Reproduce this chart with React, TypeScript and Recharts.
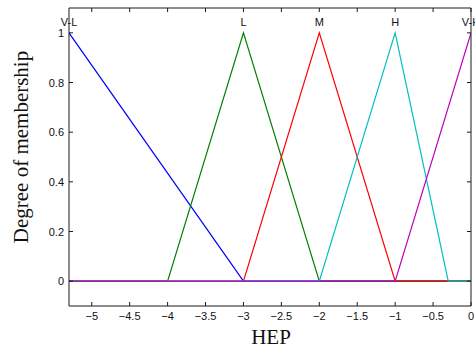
import React from 'react';
import { LineChart, Line, XAxis, YAxis, ReferenceDot, Label } from 'recharts';

// Membership functions (x breakpoints and membership values)
const vlX = [-5.3, -3, 0];
const vlY = [1, 0, 0];
const lX = [-5.3, -4, -3, -2, 0];
const lY = [0, 0, 1, 0, 0];
const mX = [-5.3, -3, -2, -1, 0];
const mY = [0, 0, 1, 0, 0];
const hX = [-5.3, -2, -1, -0.3, 0];
const hY = [0, 0, 1, 0, 0];
const vhX = [-5.3, -1, 0];
const vhY = [0, 0, 1];

const seriesNames = ['V-L', 'L', 'M', 'H', 'V-H'];
const peakX = [-5.3, -3, -2, -1, 0];
const seriesColors = ['#0000ff', '#008000', '#ff0000', '#00bfbf', '#bf00bf'];

const xTicks = [-5, -4.5, -4, -3.5, -3, -2.5, -2, -1.5, -1, -0.5, 0];
const yTicks = [0, 0.2, 0.4, 0.6, 0.8, 1];
const xDomain = [-5.3, 0];
const yDomain = [-0.1, 1.1];

const toPts = (xs: number[], ys: number[]) => xs.map((x, i) => ({ x, y: ys[i] }));
const series = [
  toPts(vlX, vlY),
  toPts(lX, lY),
  toPts(mX, mY),
  toPts(hX, hY),
  toPts(vhX, vhY),
];

const AX = '#1a1a1a';
const TICK_FONT = '"Liberation Sans", Arial, Helvetica, sans-serif';
const SERIF = '"Liberation Serif", "Times New Roman", serif';

const fmt = (v: number) => {
  const s = String(v);
  return s.startsWith('-') ? '\u2212' + s.slice(1) : s;
};

const BottomTick = (p: any) => (
  <g>
    <line x1={p.x} x2={p.x} y1={p.y} y2={p.y - 4} stroke={AX} strokeWidth={1} />
    <text x={p.x} y={p.y + 14} textAnchor="middle" fontSize={11} fontFamily={TICK_FONT} fill="#111">
      {fmt(p.payload.value)}
    </text>
  </g>
);
const TopTick = (p: any) => (
  <line x1={p.x} x2={p.x} y1={p.y} y2={p.y + 4} stroke={AX} strokeWidth={1} />
);
const LeftTick = (p: any) => (
  <g>
    <line x1={p.x} x2={p.x + 4} y1={p.y} y2={p.y} stroke={AX} strokeWidth={1} />
    <text x={p.x - 5} y={p.y + 4} textAnchor="end" fontSize={11} fontFamily={TICK_FONT} fill="#111">
      {fmt(p.payload.value)}
    </text>
  </g>
);
const RightTick = (p: any) => (
  <line x1={p.x} x2={p.x - 4} y1={p.y} y2={p.y} stroke={AX} strokeWidth={1} />
);

export default function App() {
  return (
    <div style={{ position: 'absolute', left: 0, top: 0, background: '#fff' }}>
      <LineChart width={475} height={351} margin={{ top: 0, right: 0, bottom: 0, left: 0 }}>
        <XAxis
          xAxisId="b"
          type="number"
          dataKey="x"
          domain={xDomain}
          ticks={xTicks}
          allowDataOverflow
          height={45}
          tickSize={0}
          tickMargin={0}
          tickLine={false}
          tick={BottomTick}
          axisLine={{ stroke: AX }}
          interval={0}
        >
          <Label
            content={() => (
              <text x={271} y={344} textAnchor="middle" fontSize={21} fontFamily={SERIF} fill="#111">
                HEP
              </text>
            )}
          />
        </XAxis>
        <XAxis
          xAxisId="t"
          orientation="top"
          type="number"
          dataKey="x"
          domain={xDomain}
          ticks={xTicks}
          allowDataOverflow
          height={8}
          tickSize={0}
          tickMargin={0}
          tickLine={false}
          tick={TopTick}
          axisLine={{ stroke: AX }}
          interval={0}
        />
        <YAxis
          yAxisId="l"
          type="number"
          domain={yDomain}
          ticks={yTicks}
          allowDataOverflow
          width={69}
          tickSize={0}
          tickMargin={0}
          tickLine={false}
          tick={LeftTick}
          axisLine={{ stroke: AX }}
          interval={0}
        >
          <Label
            content={() => (
              <text
                x={28}
                y={147}
                transform="rotate(-90 28 147)"
                textAnchor="middle"
                fontSize={21}
                fontFamily={SERIF}
                fill="#111"
              >
                Degree of membership
              </text>
            )}
          />
        </YAxis>
        <YAxis
          yAxisId="r"
          orientation="right"
          type="number"
          domain={yDomain}
          ticks={yTicks}
          allowDataOverflow
          width={4}
          tickSize={0}
          tickMargin={0}
          tickLine={false}
          tick={RightTick}
          axisLine={{ stroke: AX }}
          interval={0}
        />
        {series.map((d, i) => (
          <Line
            key={seriesNames[i]}
            xAxisId="b"
            yAxisId="l"
            data={d}
            dataKey="y"
            type="linear"
            stroke={seriesColors[i]}
            strokeWidth={1.2}
            dot={false}
            activeDot={false}
            isAnimationActive={false}
          />
        ))}
        {seriesNames.map((n, i) => (
          <ReferenceDot
            key={'lbl' + n}
            xAxisId="b"
            yAxisId="l"
            x={peakX[i]}
            y={1}
            r={1}
            fill="none"
            stroke="none"
            ifOverflow="visible"
            label={{ value: n, position: 'top', offset: 6, fontSize: 11, fontFamily: TICK_FONT, fill: '#111' }}
          />
        ))}
      </LineChart>
    </div>
  );
}
